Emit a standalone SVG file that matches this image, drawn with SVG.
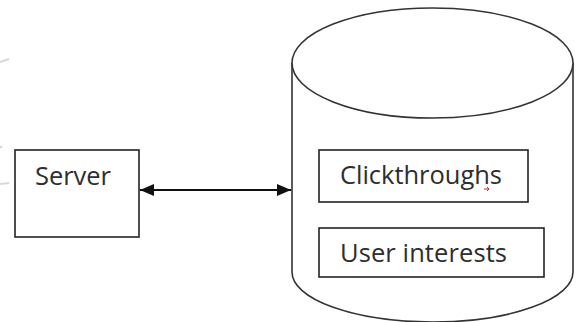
<svg xmlns="http://www.w3.org/2000/svg" width="576" height="322" viewBox="0 0 576 322">
<style>
.box{fill:#fff;stroke:#222;stroke-width:1.6}
.cyl{fill:#fff;stroke:#333;stroke-width:1.6}
.lbl{font-family:"Open Sans","Noto Sans","Liberation Sans",sans-serif;font-size:25.5px;fill:#2e2e2e}
.conn{stroke:#111;stroke-width:1.8;fill:none}
.faint{stroke:#d8d8d8;stroke-width:2;fill:none}
</style>
<defs>
<marker id="ah" viewBox="0 0 14 12" refX="14" refY="6" markerWidth="14" markerHeight="12" markerUnits="userSpaceOnUse" orient="auto-start-reverse">
<path d="M0,0 L14,6 L0,12 Z" fill="#111"/>
</marker>
</defs>
<rect width="576" height="322" fill="#fff"/>
<path class="faint" d="M0,62 L9,59"/>
<path class="faint" d="M0,148 L2,146"/>
<path class="faint" d="M0,184 L9,183"/>
<g id="database">
<path class="cyl" d="M292,63 L292,272 A140.5,50 0 0 0 573,272 L573,63"/>
<ellipse class="cyl" cx="432.5" cy="63" rx="140.5" ry="55"/>
</g>
<g id="server">
<rect class="box" x="15" y="150" width="124" height="87"/>
<text class="lbl" x="35" y="185" textLength="76">Server</text>
</g>
<g id="clickthroughs">
<rect class="box" x="319" y="150" width="209" height="52"/>
<text class="lbl" x="340" y="184" textLength="162">Clickthroughs</text>
<path d="M484,189 l5,0 l-2,-2 M489,189 l-2,2" stroke="#b03030" stroke-width="1" fill="none"/>
</g>
<g id="user-interests">
<rect class="box" x="319" y="228" width="225" height="49"/>
<text class="lbl" x="340" y="262" textLength="167">User interests</text>
</g>
<g id="connectors">
<line class="conn" x1="140" y1="190" x2="291" y2="190" marker-start="url(#ah)" marker-end="url(#ah)"/>
</g>
</svg>
